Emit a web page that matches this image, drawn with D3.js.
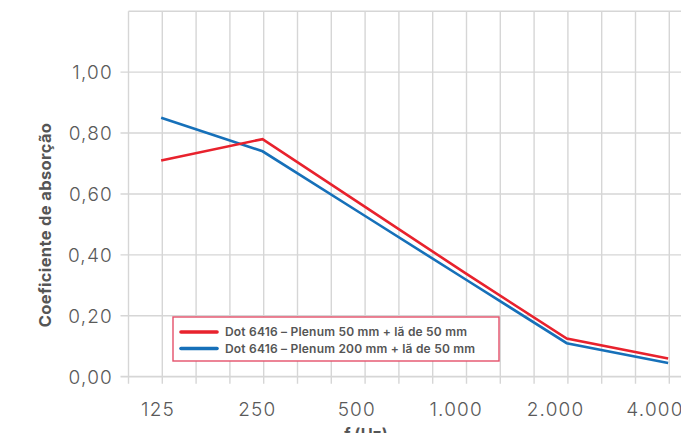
<!DOCTYPE html>
<html><head><meta charset="utf-8">
<script src="https://cdn.jsdelivr.net/npm/d3@7"></script>
<style>
html,body{margin:0;padding:0;background:#fff;}
svg{display:block;}
</style></head>
<body>
<svg id="chart" width="681" height="433"></svg>
<script>
const freqs = [125, 250, 500, 1000, 2000, 4000];
const tickLabels = ["125", "250", "500", "1.000", "2.000", "4.000"];
const series50 = [0.71, 0.78, 0.56, 0.34, 0.125, 0.06];
const series200 = [0.85, 0.74, 0.53, 0.32, 0.11, 0.045];
const seriesNames = ["Dot 6416 – Plenum 50 mm + lã de 50 mm", "Dot 6416 – Plenum 200 mm + lã de 50 mm"];
const yTicks = [0, 0.2, 0.4, 0.6, 0.8, 1.0];
const yTitle = "Coeficiente de absorção";
const xTitle = "f (Hz)";

(function () {
const svg = d3.select("#chart");
const W = 681;
const pLeft = 128.5, pTop = 11.2, pBottom = 376.7;
const step = 33.8;

const x = d3.scaleLog().base(2).domain([100, 4000])
  .range([pLeft, pLeft + Math.log2(40) * 3 * step]);
const xLab = d3.scalePoint().domain(tickLabels).range([158, 655]);
const y = d3.scaleLinear().domain([0, 1.2]).range([pBottom, pTop]);

const gridFreqs = d3.range(0, 19).map(k => 100 * Math.pow(2, k / 3));
const gridCol = "#d6d6d6";
const font = "Inter, 'Open Sans', sans-serif";

svg.append("g").selectAll("line").data(gridFreqs).join("line")
  .attr("x1", d => x(d)).attr("x2", d => x(d))
  .attr("y1", pTop).attr("y2", pBottom + 7)
  .attr("stroke", gridCol).attr("stroke-width", 1.4);
svg.append("g").selectAll("line").data(yTicks.concat([1.2])).join("line")
  .attr("x1", d => d === 1.2 ? pLeft : pLeft - 8).attr("x2", W + 10)
  .attr("y1", d => y(d)).attr("y2", d => y(d))
  .attr("stroke", gridCol).attr("stroke-width", d => d === 0 ? 1.8 : 1.4);

svg.append("g").selectAll("text").data(yTicks).join("text")
  .attr("x", 113).attr("y", d => y(d)).attr("dy", "0.36em")
  .attr("text-anchor", "end")
  .attr("font-family", font).attr("font-weight", 300)
  .attr("font-size", 19).attr("letter-spacing", 1.2).attr("fill", "#5a5a5a")
  .text(d => d3.format(".2f")(d).replace(".", ","));

svg.append("g").selectAll("text").data(tickLabels).join("text")
  .attr("x", d => xLab(d)).attr("y", 415.5)
  .attr("text-anchor", "middle")
  .attr("font-family", font).attr("font-weight", 300)
  .attr("font-size", 19).attr("letter-spacing", 1.2).attr("fill", "#5a5a5a")
  .text(d => d);

svg.append("text")
  .attr("transform", "translate(51,225) rotate(-90)")
  .attr("text-anchor", "middle")
  .attr("font-family", font).attr("font-weight", 700)
  .attr("font-size", 16.5).attr("letter-spacing", 0.35).attr("fill", "#555")
  .text(yTitle);
svg.append("text")
  .attr("x", 366).attr("y", 440)
  .attr("text-anchor", "middle")
  .attr("font-family", font).attr("font-weight", 700)
  .attr("font-size", 16).attr("fill", "#555")
  .text(xTitle);

const colors = ["#e8222d", "#1670b9"];
const line = d3.line().x((d, i) => x(freqs[i])).y(d => y(d));
svg.append("path").datum(series200)
  .attr("d", line).attr("fill", "none")
  .attr("stroke", colors[1]).attr("stroke-width", 2.6);
svg.append("path").datum(series50)
  .attr("d", line).attr("fill", "none")
  .attr("stroke", colors[0]).attr("stroke-width", 2.6);

const lg = svg.append("g");
lg.append("rect").attr("x", 173).attr("y", 317).attr("width", 326).attr("height", 44)
  .attr("fill", "#fff").attr("stroke", "#e4506a").attr("stroke-width", 1.4);
seriesNames.forEach((n, i) => {
  const yy = 332 + i * 16.5;
  lg.append("line").attr("x1", 181).attr("x2", 217).attr("y1", yy).attr("y2", yy)
    .attr("stroke", colors[i]).attr("stroke-width", 3.6).attr("stroke-linecap", "round");
  lg.append("text").attr("x", 225).attr("y", yy).attr("dy", "0.36em")
    .attr("font-family", font).attr("font-weight", 600)
    .attr("font-size", 12).attr("letter-spacing", 0.2).attr("fill", "#555")
    .text(n);
});
})();
</script>
</body></html>
